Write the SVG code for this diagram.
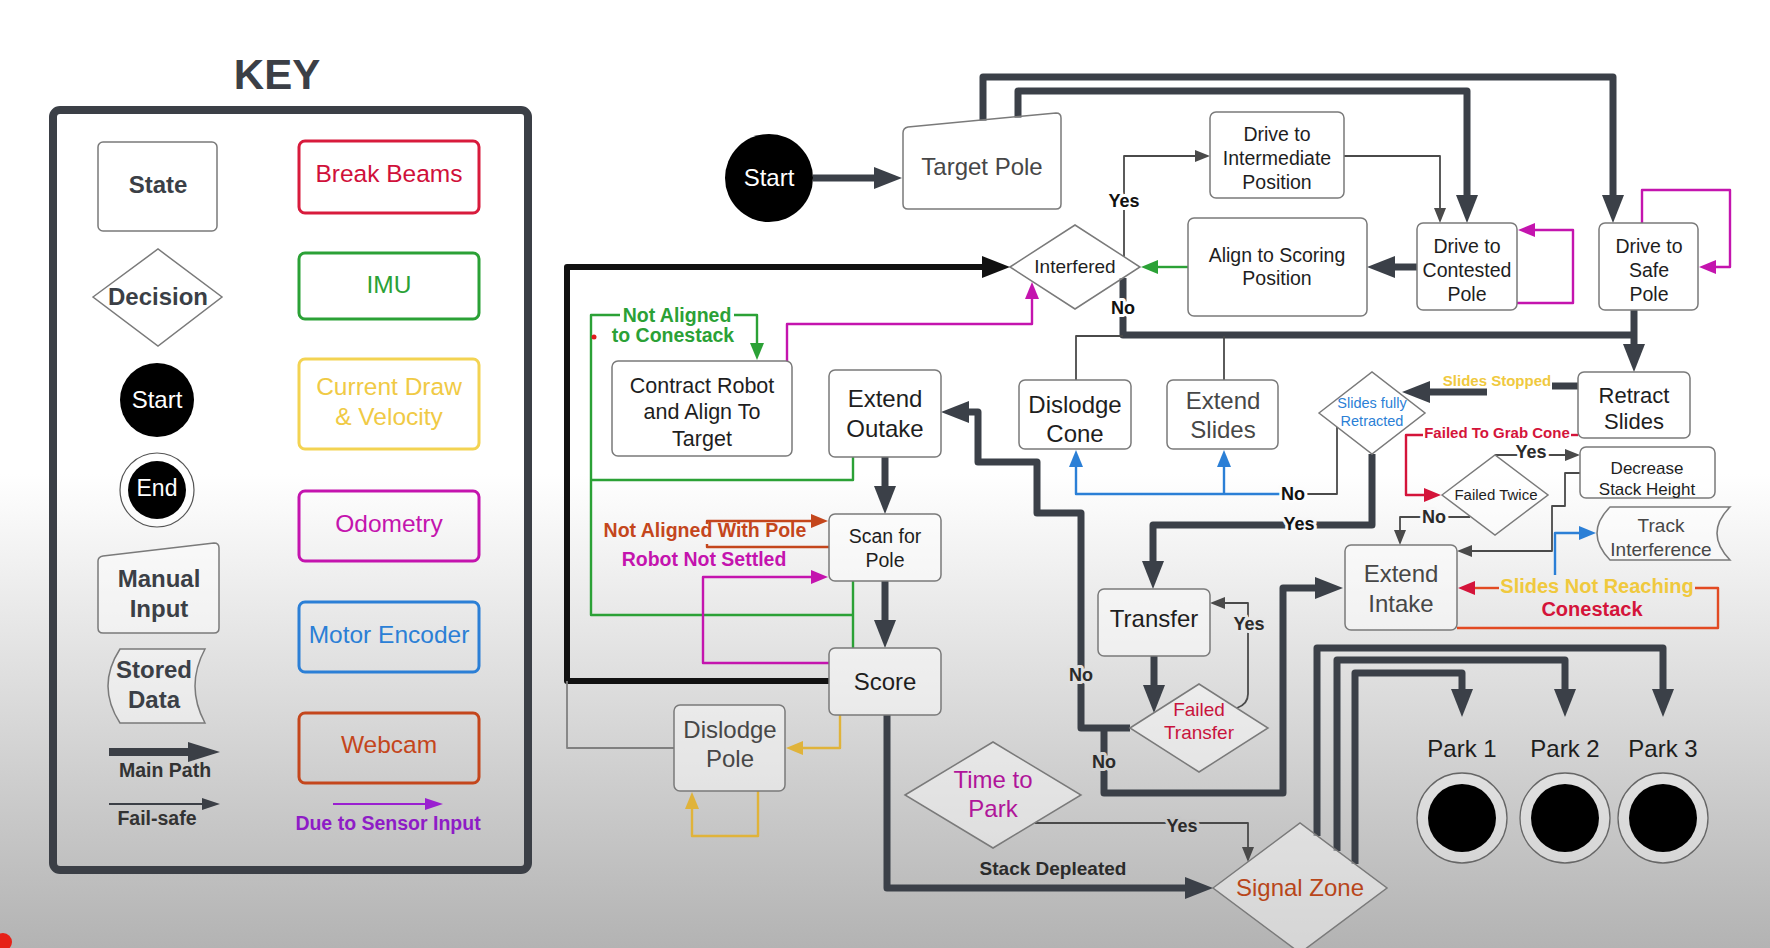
<svg xmlns="http://www.w3.org/2000/svg" width="1770" height="948" viewBox="0 0 1770 948">
<defs>
<linearGradient id="bg" x1="0" y1="0" x2="0" y2="1">
<stop offset="0" stop-color="#ffffff"/>
<stop offset="0.5" stop-color="#ffffff"/>
<stop offset="1" stop-color="#b3b3b3"/>
</linearGradient>
<marker id="mT" markerUnits="userSpaceOnUse" markerWidth="30" markerHeight="22" refX="1" refY="11" orient="auto"><path d="M0,0L28,11L0,22Z" fill="#3b4048"/></marker>
<marker id="mK" markerUnits="userSpaceOnUse" markerWidth="30" markerHeight="22" refX="1" refY="11" orient="auto"><path d="M0,0L28,11L0,22Z" fill="#111"/></marker>
<marker id="mN" markerUnits="userSpaceOnUse" markerWidth="16" markerHeight="12" refX="1" refY="6" orient="auto"><path d="M0,0L15,6L0,12Z" fill="#4a4a4a"/></marker>
<marker id="mG" markerUnits="userSpaceOnUse" markerWidth="18" markerHeight="14" refX="1" refY="7" orient="auto"><path d="M0,0L17,7L0,14Z" fill="#2ba136"/></marker>
<marker id="mM" markerUnits="userSpaceOnUse" markerWidth="18" markerHeight="14" refX="1" refY="7" orient="auto"><path d="M0,0L17,7L0,14Z" fill="#c414ae"/></marker>
<marker id="mB" markerUnits="userSpaceOnUse" markerWidth="18" markerHeight="14" refX="1" refY="7" orient="auto"><path d="M0,0L17,7L0,14Z" fill="#2b7fd6"/></marker>
<marker id="mY" markerUnits="userSpaceOnUse" markerWidth="18" markerHeight="14" refX="1" refY="7" orient="auto"><path d="M0,0L17,7L0,14Z" fill="#e0b33a"/></marker>
<marker id="mR" markerUnits="userSpaceOnUse" markerWidth="18" markerHeight="14" refX="1" refY="7" orient="auto"><path d="M0,0L17,7L0,14Z" fill="#d4143a"/></marker>
<marker id="mW" markerUnits="userSpaceOnUse" markerWidth="18" markerHeight="14" refX="1" refY="7" orient="auto"><path d="M0,0L17,7L0,14Z" fill="#c4461c"/></marker>
</defs>
<style>
.t{font-family:"Liberation Sans",Arial,sans-serif;text-anchor:middle;fill:#1e1e1e}
.b{font-weight:bold}
.gr{fill:#474747}
.box{fill:#fff;fill-opacity:.45;stroke:#7a7a7a;stroke-width:1.5}
.kb{fill:none;stroke-width:3}
.thick{fill:none;stroke:#3b4048;stroke-width:7;stroke-linejoin:round}
.blk{fill:none;stroke:#111;stroke-width:6;stroke-linejoin:round}
.thin{fill:none;stroke:#4a4a4a;stroke-width:1.8;stroke-linejoin:round}
.g{fill:none;stroke:#2ba136;stroke-width:2.4;stroke-linejoin:round}
.m{fill:none;stroke:#c414ae;stroke-width:2.4;stroke-linejoin:round}
.bl{fill:none;stroke:#2b7fd6;stroke-width:2.4;stroke-linejoin:round}
.y{fill:none;stroke:#e0b33a;stroke-width:2.4;stroke-linejoin:round}
.r{fill:none;stroke:#d4143a;stroke-width:2.4;stroke-linejoin:round}
.w{fill:none;stroke:#c4461c;stroke-width:2.4;stroke-linejoin:round}
.lbl{font-family:"Liberation Sans",Arial,sans-serif;text-anchor:middle;font-weight:bold;paint-order:stroke;stroke-width:6;stroke-linejoin:round}
</style>
<rect x="0" y="0" width="1770" height="948" fill="url(#bg)"/>

<g id="key">
<text class="t b" x="277" y="89" font-size="42" style="fill:#3b3f46">KEY</text>
<rect x="53" y="110" width="475" height="760" rx="7" fill="none" stroke="#3b3f46" stroke-width="8"/>
<g id="key-state"><rect class="box" x="98" y="142" width="119" height="89" rx="5"/><text class="t b" x="158" y="193" font-size="24" style="fill:#3b3f46">State</text></g>
<g id="key-decision"><polygon class="box" points="93,297 158,249 222,297 158,346"/><text class="t b" x="158" y="305" font-size="24" style="fill:#3b3f46">Decision</text></g>
<g id="key-start"><circle cx="157" cy="400" r="37" fill="#000"/><text class="t" x="157" y="408" font-size="24" style="fill:#fff">Start</text></g>
<g id="key-end"><circle cx="157" cy="490" r="37" fill="#fff" fill-opacity=".5" stroke="#555" stroke-width="1.2"/><circle cx="157" cy="490" r="29" fill="#000"/><text class="t" x="157" y="496" font-size="23" style="fill:#fff">End</text></g>
<g id="key-manual"><path class="box" d="M98,561 Q98,557 103,556 L214,543 Q219,543 219,548 V628 Q219,633 214,633 H103 Q98,633 98,628 Z"/><text class="t b" x="159" y="587" font-size="24" style="fill:#3b3f46">Manual</text><text class="t b" x="159" y="617" font-size="24" style="fill:#3b3f46">Input</text></g>
<g id="key-stored"><path class="box" d="M120,649 H205 Q185,686 205,723 H120 Q96,686 120,649 Z"/><text class="t b" x="154" y="678" font-size="24" style="fill:#3b3f46">Stored</text><text class="t b" x="154" y="708" font-size="24" style="fill:#3b3f46">Data</text></g>
<g id="key-main"><path d="M109,752 H190" stroke="#3b3f46" stroke-width="8"/><polygon points="188,742 220,752 188,762" fill="#3b3f46"/><text class="t b" x="165" y="777" font-size="19.5" style="fill:#333">Main Path</text></g>
<g id="key-failsafe"><path d="M109,804 H204" stroke="#3b3f46" stroke-width="2"/><polygon points="202,798 220,804 202,810" fill="#3b3f46"/><text class="t b" x="157" y="825" font-size="19.5" style="fill:#333">Fail-safe</text></g>
<g id="key-bb"><rect class="kb" x="299" y="141" width="180" height="72" rx="6" stroke="#d81b3c"/><text class="t" x="389" y="182" font-size="24.5" style="fill:#d0103a">Break Beams</text></g>
<g id="key-imu"><rect class="kb" x="299" y="253" width="180" height="66" rx="6" stroke="#2ba136"/><text class="t" x="389" y="293" font-size="24.5" style="fill:#2ba136">IMU</text></g>
<g id="key-cd"><rect class="kb" x="299" y="359" width="180" height="90" rx="6" stroke="#f3d352"/><text class="t" x="389" y="395" font-size="24.5" style="fill:#f0ca45">Current Draw</text><text class="t" x="389" y="425" font-size="24.5" style="fill:#f0ca45">&amp; Velocity</text></g>
<g id="key-odo"><rect class="kb" x="299" y="491" width="180" height="70" rx="6" stroke="#c414ae"/><text class="t" x="389" y="532" font-size="24.5" style="fill:#c414ae">Odometry</text></g>
<g id="key-enc"><rect class="kb" x="299" y="602" width="180" height="70" rx="6" stroke="#2b7fd6"/><text class="t" x="389" y="643" font-size="24.5" style="fill:#2b7fd6">Motor Encoder</text></g>
<g id="key-cam"><rect class="kb" x="299" y="713" width="180" height="70" rx="6" stroke="#c4461c"/><text class="t" x="389" y="753" font-size="24.5" style="fill:#c4461c">Webcam</text></g>
<g id="key-sensor"><path d="M333,804 H427" stroke="#9a1fd0" stroke-width="2"/><polygon points="425,798 443,804 425,810" fill="#9a1fd0"/><text class="t b" x="388" y="830" font-size="19.5" style="fill:#8e1cc6">Due to Sensor Input</text></g>
</g>

<g id="connectors">
<path class="thick" d="M813,178 H875" marker-end="url(#mT)"/>
<path class="thick" d="M983,121 V77 H1613 V196" marker-end="url(#mT)"/>
<path class="thick" d="M1018,118 V91 H1467 V196" marker-end="url(#mT)"/>
<path class="thick" d="M1417,267 H1394" marker-end="url(#mT)"/>
<path class="thick" d="M1634,310 V345" marker-end="url(#mT)"/>
<path class="thick" d="M1123,278 V335 H1634"/>
<path class="thick" d="M1578,386 H1552"/>
<path class="thick" d="M1487,392 H1429" marker-end="url(#mT)"/>
<path class="thick" d="M1372,454 V525 H1153 V562" marker-end="url(#mT)"/>
<path class="thick" d="M885,457 V487" marker-end="url(#mT)"/>
<path class="thick" d="M885,581 V621" marker-end="url(#mT)"/>
<path class="thick" d="M887,715 V888 H1186" marker-end="url(#mT)"/>
<path class="thick" d="M1130,728 H1081 V513 H1037 V462 H978 V412 H968" marker-end="url(#mT)"/>
<path class="thick" d="M1104,728 V793 H1283 V588 H1316" marker-end="url(#mT)"/>
<path class="thick" d="M1154,656 V686" marker-end="url(#mT)"/>
<path class="thick" d="M1317,836 V648 H1663 V690" marker-end="url(#mT)"/>
<path class="thick" d="M1337,851 V660 H1565 V690" marker-end="url(#mT)"/>
<path class="thick" d="M1355,864 V673 H1462 V690" marker-end="url(#mT)"/>
<path class="blk" d="M829,681 H567 V267 H983" marker-end="url(#mK)"/>
<path class="thin" d="M1124,257 V156 H1196" marker-end="url(#mN)"/>
<path class="thin" d="M1344,156 H1440 V209" marker-end="url(#mN)"/>
<path class="thin" d="M1076,380 V336 H1123"/>
<path class="thin" d="M1224,380 V336"/>
<path class="thin" d="M1337,427 V494 H1307"/>
<path class="thin" d="M1237,708 Q1248,704 1248,694 V603 H1224" marker-end="url(#mN)"/>
<path class="thin" d="M1035,823 H1248 V848" marker-end="url(#mN)"/>
<path class="thin" d="M1495,455 H1566" marker-end="url(#mN)"/>
<path class="thin" d="M1470,517 H1400 V531" marker-end="url(#mN)"/>
<path class="thin" d="M1580,473 H1565 V506 H1552 V551 H1471" marker-end="url(#mN)"/>
<path class="thin" style="stroke:#808080" d="M674,748 H567 V681"/>
<path class="g" d="M1188,267 H1157" marker-end="url(#mG)"/>
<path class="g" d="M853,457 V480 H591"/>
<path class="g" d="M853,581 V648"/>
<path class="g" d="M853,615 H591 V315 H620"/>
<path class="g" d="M734,315 H757 V344" marker-end="url(#mG)"/>
<path class="m" d="M787,361 V324 H1032 V298" marker-end="url(#mM)"/>
<path class="m" d="M829,663 H703 V577 H812" marker-end="url(#mM)"/>
<path class="m" d="M1517,303 H1573 V230 H1534" marker-end="url(#mM)"/>
<path class="m" d="M1642,223 V190 H1730 V267 H1715" marker-end="url(#mM)"/>
<path class="w" d="M707,524 V521 H812" marker-end="url(#mW)"/>
<path class="w" d="M829,547 H707 V544"/>
<path class="y" d="M840,715 V748 H802" marker-end="url(#mY)"/>
<path class="y" d="M758,791 V836 H692 V808" marker-end="url(#mY)"/>
<path class="bl" d="M1282,494 H1076 V466" marker-end="url(#mB)"/>
<path class="bl" d="M1224,494 V466" marker-end="url(#mB)"/>
<path class="bl" d="M1555,575 V533 H1580" marker-end="url(#mB)"/>
<path class="r" d="M1578,435 H1571"/>
<path class="r" d="M1423,435 H1406 V495 H1425" marker-end="url(#mR)"/>
<path class="r" style="stroke:#e24a22" d="M1457,628 H1718 V588 H1695"/>
<path class="r" style="stroke:#e24a22" d="M1499,588 H1474" marker-end="url(#mR)"/>
<circle cx="594" cy="337" r="2.5" fill="#e01d1d"/>
<text class="lbl" x="1124" y="207" font-size="18" fill="#111" stroke="#fff">Yes</text>
<text class="lbl" x="1123" y="314" font-size="18" fill="#111" stroke="#fff">No</text>
<text class="lbl" x="677" y="322" font-size="19.5" fill="#2ba136">Not Aligned</text>
<text class="lbl" x="673" y="342" font-size="19.5" fill="#2ba136">to Conestack</text>
<text class="lbl" x="705" y="537" font-size="19.5" fill="#c4461c">Not Aligned With Pole</text>
<text class="lbl" x="704" y="566" font-size="19.5" fill="#c414ae">Robot Not Settled</text>
<text class="lbl" x="1053" y="875" font-size="19" fill="#2b2b2b">Stack Depleated</text>
<text class="lbl" x="1182" y="832" font-size="18" fill="#2b2b2b" stroke="#c6c6c6">Yes</text>
<text class="lbl" x="1081" y="681" font-size="18" fill="#2b2b2b" stroke="#dfdfdf">No</text>
<text class="lbl" x="1104" y="768" font-size="18" fill="#2b2b2b" stroke="#d1d1d1">No</text>
<text class="lbl" x="1249" y="630" font-size="18" fill="#2b2b2b" stroke="#e7e7e7">Yes</text>
<text class="lbl" x="1293" y="500" font-size="18" fill="#111" stroke="#fcfcfc">No</text>
<text class="lbl" x="1299" y="530" font-size="18" fill="#111" stroke="#f7f7f7">Yes</text>
<text class="lbl" x="1497" y="386" font-size="15" fill="#f0c93e">Slides Stopped</text>
<text class="lbl" x="1497" y="438" font-size="15" fill="#d4143a">Failed To Grab Cone</text>
<text class="lbl" x="1531" y="458" font-size="18" fill="#2b2b2b" stroke="#fff">Yes</text>
<text class="lbl" x="1434" y="523" font-size="18" fill="#2b2b2b" stroke="#f8f8f8">No</text>
<text class="lbl" x="1597" y="593" font-size="20" fill="#f0c93e">Slides Not Reaching</text>
<text class="lbl" x="1592" y="616" font-size="20" fill="#d4143a">Conestack</text>
</g>

<g id="start"><circle cx="769" cy="178" r="44" fill="#000"/><text class="t" x="769" y="186" font-size="24" style="fill:#fff">Start</text></g>
<g id="target-pole"><path class="box" d="M903,133 Q903,128 908,127 L1056,113 Q1061,113 1061,118 V204 Q1061,209 1056,209 H908 Q903,209 903,204 Z"/><text class="t gr" x="982" y="175" font-size="24">Target Pole</text></g>
<g id="intermediate"><rect class="box" x="1210" y="112" width="134" height="86" rx="6"/><text class="t" x="1277" y="141" font-size="19.5">Drive to</text><text class="t" x="1277" y="165" font-size="19.5">Intermediate</text><text class="t" x="1277" y="189" font-size="19.5">Position</text></g>
<g id="align-scoring"><rect class="box" x="1188" y="218" width="179" height="98" rx="6"/><text class="t" x="1277" y="262" font-size="19.5">Align to Scoring</text><text class="t" x="1277" y="285" font-size="19.5">Position</text></g>
<g id="contested"><rect class="box" x="1417" y="223" width="100" height="87" rx="6"/><text class="t" x="1467" y="253" font-size="19.5">Drive to</text><text class="t" x="1467" y="277" font-size="19.5">Contested</text><text class="t" x="1467" y="301" font-size="19.5">Pole</text></g>
<g id="safe"><rect class="box" x="1599" y="223" width="99" height="87" rx="6"/><text class="t" x="1649" y="253" font-size="19.5">Drive to</text><text class="t" x="1649" y="277" font-size="19.5">Safe</text><text class="t" x="1649" y="301" font-size="19.5">Pole</text></g>
<g id="interfered"><polygon class="box" points="1010,267 1075,225 1140,267 1075,309"/><text class="t" x="1075" y="273" font-size="19">Interfered</text></g>
<g id="retract"><rect class="box" x="1578" y="372" width="112" height="66" rx="6"/><text class="t" x="1634" y="403" font-size="22">Retract</text><text class="t" x="1634" y="429" font-size="22">Slides</text></g>
<g id="slides-retracted"><polygon class="box" points="1319,413 1372,372 1425,413 1372,454"/><text class="t" x="1372" y="408" font-size="14.5" style="fill:#2b7fd6">Slides fully</text><text class="t" x="1372" y="426" font-size="14.5" style="fill:#2b7fd6">Retracted</text></g>
<g id="dislodge-cone"><rect class="box" x="1019" y="380" width="112" height="69" rx="6"/><text class="t" x="1075" y="413" font-size="24">Dislodge</text><text class="t" x="1075" y="442" font-size="24">Cone</text></g>
<g id="extend-slides"><rect class="box" x="1167" y="380" width="111" height="69" rx="6"/><text class="t gr" x="1223" y="409" font-size="24">Extend</text><text class="t gr" x="1223" y="438" font-size="24">Slides</text></g>
<g id="failed-twice"><polygon class="box" points="1442,495 1495,455 1548,495 1495,535"/><text class="t" x="1496" y="500" font-size="15">Failed Twice</text></g>
<g id="decrease"><rect class="box" x="1580" y="447" width="135" height="51" rx="6"/><text class="t" x="1647" y="474" font-size="17">Decrease</text><text class="t" x="1647" y="495" font-size="17">Stack Height</text></g>
<g id="extend-intake"><rect class="box" x="1345" y="545" width="112" height="85" rx="6"/><text class="t gr" x="1401" y="582" font-size="24">Extend</text><text class="t gr" x="1401" y="612" font-size="24">Intake</text></g>
<g id="track"><path class="box" d="M1610,507 H1730 Q1704,533 1730,560 H1610 Q1584,533 1610,507 Z"/><text class="t gr" x="1661" y="532" font-size="19">Track</text><text class="t gr" x="1661" y="556" font-size="19">Interference</text></g>
<g id="contract"><rect class="box" x="612" y="361" width="180" height="95" rx="6"/><text class="t" x="702" y="393" font-size="21.5">Contract Robot</text><text class="t" x="702" y="419" font-size="21.5">and Align To</text><text class="t" x="702" y="446" font-size="21.5">Target</text></g>
<g id="extend-outake"><rect class="box" x="829" y="370" width="112" height="87" rx="6"/><text class="t" x="885" y="407" font-size="24">Extend</text><text class="t" x="885" y="437" font-size="24">Outake</text></g>
<g id="scan"><rect class="box" x="829" y="514" width="112" height="67" rx="6"/><text class="t" x="885" y="543" font-size="19.5">Scan for</text><text class="t" x="885" y="567" font-size="19.5">Pole</text></g>
<g id="score"><rect class="box" x="829" y="648" width="112" height="67" rx="6"/><text class="t" x="885" y="690" font-size="24">Score</text></g>
<g id="dislodge-pole"><rect class="box" x="674" y="705" width="111" height="86" rx="6"/><text class="t gr" x="730" y="738" font-size="24">Dislodge</text><text class="t gr" x="730" y="767" font-size="24">Pole</text></g>
<g id="transfer"><rect class="box" x="1098" y="589" width="112" height="67" rx="6"/><text class="t" x="1154" y="627" font-size="24">Transfer</text></g>
<g id="failed-transfer"><polygon class="box" points="1130,728 1199,684 1268,728 1199,772"/><text class="t" x="1199" y="716" font-size="19" style="fill:#c8143c">Failed</text><text class="t" x="1199" y="739" font-size="19" style="fill:#c8143c">Transfer</text></g>
<g id="time-to-park"><polygon class="box" points="905,795 993,742 1081,795 993,848"/><text class="t" x="993" y="788" font-size="24" style="fill:#b0159a">Time to</text><text class="t" x="993" y="817" font-size="24" style="fill:#b0159a">Park</text></g>
<g id="signal-zone"><polygon class="box" points="1213,888 1300,823 1387,888 1300,953"/><text class="t" x="1300" y="896" font-size="24" style="fill:#b8461a">Signal Zone</text></g>
<g id="park1"><text class="t" x="1462" y="757" font-size="24">Park 1</text><circle cx="1462" cy="818" r="45" fill="#fff" fill-opacity=".35" stroke="#666" stroke-width="1.3"/><circle cx="1462" cy="818" r="34" fill="#000"/></g>
<g id="park2"><text class="t" x="1565" y="757" font-size="24">Park 2</text><circle cx="1565" cy="818" r="45" fill="#fff" fill-opacity=".35" stroke="#666" stroke-width="1.3"/><circle cx="1565" cy="818" r="34" fill="#000"/></g>
<g id="park3"><text class="t" x="1663" y="757" font-size="24">Park 3</text><circle cx="1663" cy="818" r="45" fill="#fff" fill-opacity=".35" stroke="#666" stroke-width="1.3"/><circle cx="1663" cy="818" r="34" fill="#000"/></g>
<circle cx="3" cy="942" r="9" fill="#e62117"/>
</svg>
